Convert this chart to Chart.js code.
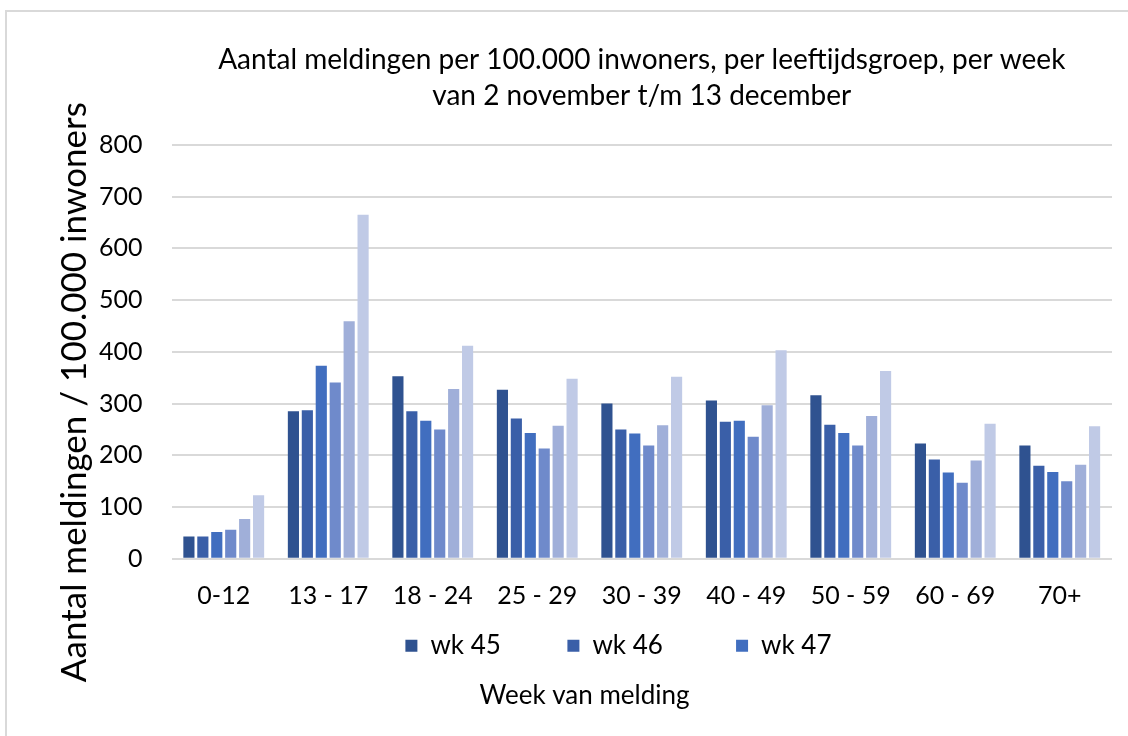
<!DOCTYPE html>
<html>
<head>
<meta charset="utf-8">
<script src="https://cdn.jsdelivr.net/npm/chart.js@4/dist/chart.umd.min.js"></script>
<style>
  html, body { margin: 0; padding: 0; background: #fff; overflow: hidden; }
  #frame { position: absolute; left: 5px; top: 10px; width: 1200px; height: 800px; border: 2px solid #d9d9d9; }
  #chart { position: absolute; left: 0; top: 0; }
</style>
</head>
<body>
<div id="frame"></div>
<canvas id="chart" width="1128" height="736"></canvas>
<script>
const ageGroups = ['0-12', '13 - 17', '18 - 24', '25 - 29', '30 - 39', '40 - 49', '50 - 59', '60 - 69', '70+'];
const weeks = ['wk 45', 'wk 46', 'wk 47', 'wk 48', 'wk 49', 'wk 50'];

const wk45 = [43, 285, 353, 327, 300, 306, 316, 223, 219];
const wk46 = [43, 287, 285, 271, 250, 265, 259, 192, 180];
const wk47 = [52, 373, 267, 243, 242, 267, 243, 167, 168];
const wk48 = [56, 341, 250, 213, 219, 236, 219, 147, 150];
const wk49 = [77, 459, 328, 257, 258, 297, 276, 190, 182];
const wk50 = [123, 665, 412, 348, 352, 403, 363, 261, 256];

const series = [wk45, wk46, wk47, wk48, wk49, wk50];
const colors = ['#2f5290', '#3a5fa8', '#416ebf', '#6f8acb', '#a0afd9', '#c0cae6'];
const yTicks = [0, 100, 200, 300, 400, 500, 600, 700, 800];

const font = 'Lato, "Open Sans", sans-serif';
const textColor = '#000';
// the excel legend uses wide fixed slots, pad the entries out with spaces
const legendPad = ['\u00a0'.repeat(10), '\u00a0'.repeat(11), '\u00a0'.repeat(7)];
// y title sits lower than the axis centre in the original, trailing spaces push it down
const yTitle = 'Aantal meldingen / 100.000 inwoners' + '\u00a0'.repeat(9);

new Chart(document.getElementById('chart'), {
  type: 'bar',
  data: {
    labels: ageGroups,
    datasets: series.map((data, i) => ({
      label: weeks[i],
      data,
      backgroundColor: colors[i],
      borderWidth: 0,
      categoryPercentage: 0.8,
      barPercentage: 0.8
    }))
  },
  options: {
    responsive: false,
    animation: false,
    layout: { padding: { left: 57, right: 16, top: 20, bottom: 10 } },
    plugins: {
      title: {
        display: true,
        fullSize: false,
        text: ['Aantal meldingen per 100.000 inwoners, per leeftijdsgroep, per week', 'van 2 november t/m 13 december'],
        color: textColor,
        font: { family: font, size: 28, weight: 'normal', lineHeight: 1.32 },
        padding: { top: 21, bottom: 30 }
      },
      subtitle: {
        display: true,
        position: 'bottom',
        text: 'Week van melding',
        color: textColor,
        font: { family: font, size: 26, weight: 'normal' },
        padding: { top: 11, bottom: 15 }
      },
      legend: {
        position: 'bottom',
        fullSize: false,
        labels: {
          color: textColor,
          font: { family: font, size: 26 },
          boxWidth: 12,
          boxHeight: 12,
          padding: 0,
          filter: item => item.datasetIndex < 3,
          generateLabels: chart => Chart.defaults.plugins.legend.labels.generateLabels(chart)
            .map(item => ({ ...item, text: item.text + (legendPad[item.datasetIndex] || '') }))
        }
      },
      tooltip: { enabled: false }
    },
    scales: {
      x: {
        grid: { display: false, drawTicks: false },
        border: { display: false },
        ticks: { color: textColor, font: { family: font, size: 25 }, padding: 22 }
      },
      y: {
        min: 0,
        max: 800,
        afterBuildTicks: axis => { axis.ticks = yTicks.map(v => ({ value: v })); },
        grid: { color: '#d9d9d9', lineWidth: 2, drawTicks: false },
        border: { display: false },
        ticks: { color: textColor, font: { family: font, size: 25 }, padding: 29 },
        title: {
          display: true,
          text: yTitle,
          color: textColor,
          font: { family: font, size: 35, lineHeight: 1.0 },
          padding: { top: 0, bottom: -22 }
        }
      }
    }
  }
});
</script>
</body>
</html>
